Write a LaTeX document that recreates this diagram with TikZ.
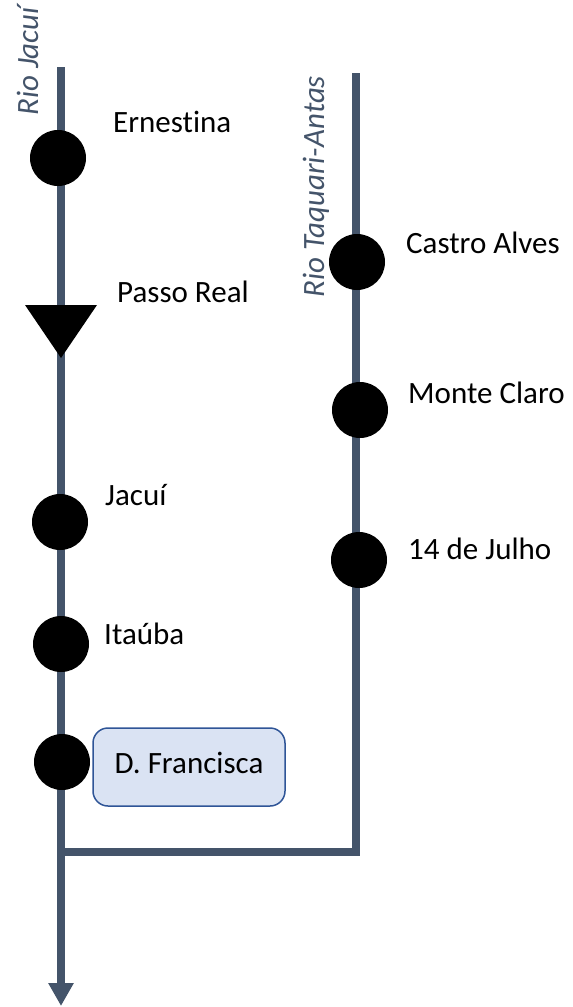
\documentclass[tikz,border=0pt]{standalone}
\usepackage{fontspec}
\setmainfont{Carlito}[Ligatures={NoCommon,NoRare}]
\usetikzlibrary{arrows.meta}
\definecolor{river}{HTML}{44546A}
\definecolor{boxfill}{HTML}{DAE3F3}
\definecolor{boxline}{HTML}{2F5597}
\begin{document}
\begin{tikzpicture}[x=1pt,y=-1pt,
  riverline/.style={draw=river,line width=7.5pt},
  plant/.style={circle,fill=black,minimum size=56pt,inner sep=0pt},
  lbl/.style={anchor=base west,inner sep=0pt,font=\fontsize{31}{37}\selectfont},
  rivername/.style={anchor=base west,inner sep=0pt,rotate=90,text=river,font=\fontsize{31}{37}\selectfont\itshape},
  plantbox/.style={draw=boxline,line width=1.5pt,fill=boxfill,rounded corners=15pt,
     minimum width=192pt,minimum height=78pt,inner sep=0pt,text height=20pt,text depth=8pt,
     font=\fontsize{31}{37}\selectfont}]
\useasboundingbox (0,0) rectangle (573,1007);
% river coordinates
\coordinate (jtop) at (61,67);
\coordinate (jend) at (61,1006);
\coordinate (ttop) at (356,73);
\coordinate (tcorner) at (356,852);
\coordinate (tjoin) at (57,852);
% rivers
\draw[riverline,-{Triangle[width=24pt,length=23pt]}] (jtop) -- (jend);
\draw[riverline] (ttop) -- (tcorner) -- (tjoin);
% river names
\node[rivername] (rj) at (38,116) {Rio Jacuí};
\node[rivername] (rt) at (324,298) {Rio Taquari-Antas};
% Jacuí plants
\node[plant] (ern) at (58,158) {};
\coordinate (pr) at (61,305);
\fill (pr) ++(-36,0) -- ++(72,0) -- ++(-36,53) -- cycle;
\node[plant] (jac) at (60,522) {};
\node[plant] (ita) at (61,644) {};
\node[plant] (dfc) at (62,762) {};
% Taquari plants
\node[plant] (cas) at (357,262) {};
\node[plant] (mon) at (360,410) {};
\node[plant] (jul) at (359,560) {};
% labels
\node[lbl] (lern) at (113,132) {Ernestina};
\node[lbl] (lpr) at (117,302) {Passo Real};
\node[lbl] (ljac) at (105,505) {Jacuí};
\node[lbl] (lita) at (104,644) {Itaúba};
\node[plantbox] (ldf) at (189,767) {D. Francisca};
\node[lbl] (lcas) at (406,253) {Castro Alves};
\node[lbl] (lmon) at (408,403) {Monte Claro};
\node[lbl] (ljul) at (408,559) {14 de Julho};
\end{tikzpicture}
\end{document}
